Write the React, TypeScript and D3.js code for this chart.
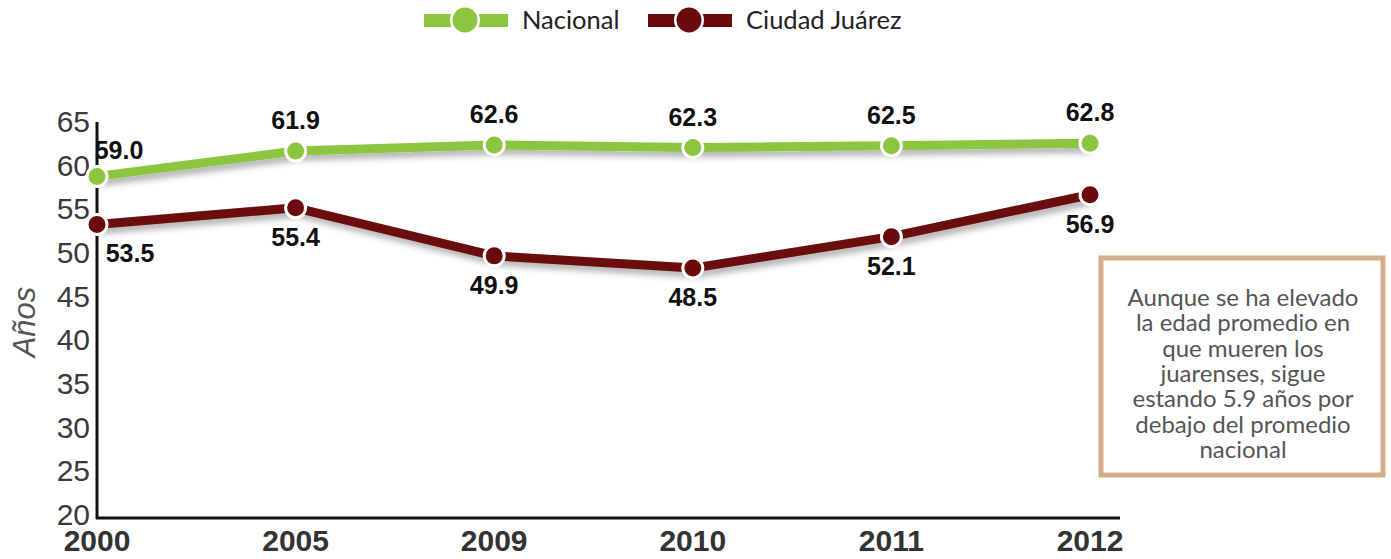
import React, { useRef, useEffect } from 'react';
import * as d3 from 'd3';

// Datos
const years = ['2000', '2005', '2009', '2010', '2011', '2012'];
const nacional = [59.0, 61.9, 62.6, 62.3, 62.5, 62.8];
const juarez = [53.5, 55.4, 49.9, 48.5, 52.1, 56.9];
const yTicks = [20, 25, 30, 35, 40, 45, 50, 55, 60, 65];
const noteLines = [
  'Aunque se ha elevado',
  'la edad promedio en',
  'que mueren los',
  'juarenses, sigue',
  'estando 5.9 años por',
  'debajo del promedio',
  'nacional',
];

const GREEN = '#8cc63f';
const RED = '#6a0a0c';

const App = () => {
  const svgRef = useRef<SVGSVGElement>(null);

  useEffect(() => {
    const svg = d3.select(svgRef.current);
    svg.selectAll('*').remove();

    const x = d3.scalePoint<string>().domain(years).range([97, 1090]).padding(0);
    const y = d3.scaleLinear().domain([20, 65]).range([517, 124]);

    const defs = svg.append('defs');
    const f = defs.append('filter').attr('id', 'shadow').attr('x', '-10%').attr('y', '-50%').attr('width', '120%').attr('height', '200%');
    f.append('feDropShadow').attr('dx', 3).attr('dy', 5).attr('stdDeviation', 3).attr('flood-color', '#000').attr('flood-opacity', 0.3);

    // Ejes
    svg.append('line').attr('x1', 97).attr('x2', 97).attr('y1', 122).attr('y2', 519)
      .attr('stroke', '#111').attr('stroke-width', 3);
    svg.append('line').attr('x1', 96).attr('x2', 1120).attr('y1', 518).attr('y2', 518)
      .attr('stroke', '#111').attr('stroke-width', 3);

    svg.append('g').selectAll('text').data(yTicks).enter().append('text')
      .attr('x', 90).attr('y', d => y(d) + 8)
      .attr('text-anchor', 'end')
      .style('font-family', 'Liberation Sans, Arial, sans-serif')
      .style('font-size', '30px').style('fill', '#3a3a3a')
      .text(d => d);

    svg.append('g').selectAll('text').data(years).enter().append('text')
      .attr('x', d => x(d)!).attr('y', 551)
      .attr('text-anchor', 'middle')
      .style('font-family', 'Liberation Sans, Arial, sans-serif')
      .style('font-size', '30px').style('font-weight', 'bold').style('fill', '#333')
      .text(d => d);

    svg.append('text')
      .attr('transform', 'translate(35, 322) rotate(-90)')
      .attr('text-anchor', 'middle')
      .style('font-family', 'Liberation Sans, Arial, sans-serif')
      .style('font-size', '31px').style('font-style', 'italic').style('fill', '#555')
      .text('Años');

    const line = d3.line<number>().x((d, i) => x(years[i])!).y(d => y(d));

    const series = [
      { values: nacional, color: GREEN },
      { values: juarez, color: RED },
    ];

    series.forEach(s => {
      svg.append('path').datum(s.values).attr('d', line)
        .attr('fill', 'none').attr('stroke', s.color).attr('stroke-width', 9)
        .attr('stroke-linejoin', 'round').attr('filter', 'url(#shadow)');
      svg.append('g').selectAll('circle').data(s.values).enter().append('circle')
        .attr('cx', (d, i) => x(years[i])!).attr('cy', d => y(d)).attr('r', 10)
        .attr('fill', s.color).attr('stroke', '#fff').attr('stroke-width', 3);
    });

    // Etiquetas de valores
    const labelStyle = (sel: any) => sel
      .style('font-family', 'Liberation Sans, Arial, sans-serif')
      .style('font-size', '25px').style('font-weight', 'bold').style('fill', '#111');

    svg.append('g').selectAll('text').data(nacional).enter().append('text')
      .attr('x', (d, i) => x(years[i])! + (i === 0 ? 22 : 0))
      .attr('y', (d, i) => y(d) + (i === 0 ? -17 : -22))
      .attr('text-anchor', 'middle')
      .call(labelStyle)
      .text(d => d.toFixed(1));

    svg.append('g').selectAll('text').data(juarez).enter().append('text')
      .attr('x', (d, i) => x(years[i])! + (i === 0 ? 33 : 0))
      .attr('y', (d, i) => y(d) + 38)
      .attr('text-anchor', 'middle')
      .call(labelStyle)
      .text(d => d.toFixed(1));

    // Leyenda
    const legend = [
      { label: 'Nacional', color: GREEN, x: 424 },
      { label: 'Ciudad Juárez', color: RED, x: 648 },
    ];
    legend.forEach(l => {
      const g = svg.append('g');
      g.append('rect').attr('x', l.x).attr('y', 14).attr('width', 84).attr('height', 13).attr('fill', l.color);
      g.append('circle').attr('cx', l.x + 41).attr('cy', 20).attr('r', 15).attr('fill', '#fff');
      g.append('circle').attr('cx', l.x + 41).attr('cy', 20).attr('r', 12.5).attr('fill', l.color);
      g.append('text').attr('x', l.x + 98).attr('y', 29)
        .style('font-family', 'Lato, sans-serif').style('font-size', '25.5px').style('fill', '#222')
        .text(l.label);
    });

    // Nota
    svg.append('rect').attr('x', 1101).attr('y', 258).attr('width', 282).attr('height', 217)
      .attr('fill', '#fff').attr('stroke', '#d2ad87').attr('stroke-width', 5);
    svg.append('g').selectAll('text').data(noteLines).enter().append('text')
      .attr('x', 1243).attr('y', (d, i) => 306 + i * 25.3)
      .attr('text-anchor', 'middle')
      .style('font-family', 'Lato, sans-serif').style('font-size', '24px').style('fill', '#555')
      .text(d => d);
  }, []);

  return (
    <svg ref={svgRef} width={1391} height={559}
      style={{ position: 'absolute', left: 0, top: 0, background: '#fff' }} />
  );
};

export default App;
